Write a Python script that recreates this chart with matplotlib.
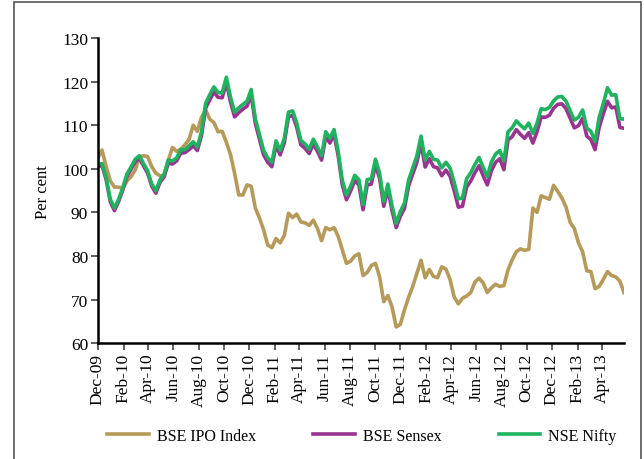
import pandas as pd
import matplotlib
matplotlib.use("Agg")
import matplotlib.pyplot as plt
import matplotlib.dates as mdates
from matplotlib.patches import Rectangle

plt.rcParams['font.family'] = ['Liberation Serif', 'DejaVu Serif']

# readings every 10 days starting 1 Dec 2009 (index, start = 100)
dates = pd.date_range('2009-12-01', periods=128, freq='10D')

bse_ipo = [102.5, 104.3, 100.5, 97.2, 95.8, 95.8, 95.5, 97.2, 98.2, 99.7,
           102.7, 103.0, 102.8, 100.5, 99.0, 98.4, 98.5, 102.0, 104.9, 104.0,
           104.5, 105.5, 106.7, 110.0, 108.6, 111.8, 113.5, 111.4, 110.6, 108.5,
           108.6, 106.1, 103.3, 99.0, 94.0, 94.0, 96.3, 96.0, 91.0, 88.7,
           86.0, 82.5, 81.9, 84.0, 83.0, 84.7, 89.8, 88.8, 89.6, 87.8,
           87.6, 87.0, 88.2, 86.3, 83.5, 86.5, 86.0, 86.5, 84.5, 81.4,
           78.3, 78.8, 80.0, 80.5, 75.5, 76.2, 77.8, 78.3, 75.2, 69.5,
           70.9, 68.3, 63.7, 64.3, 67.6, 70.5, 73.0, 76.0, 79.0, 75.0,
           76.9, 75.3, 75.0, 77.5, 77.0, 74.6, 70.6, 69.0, 70.3, 70.8,
           71.6, 74.0, 74.9, 73.8, 71.6, 72.7, 73.5, 73.0, 73.2, 76.8,
           79.1, 81.0, 81.6, 81.3, 81.5, 91.0, 90.0, 93.8, 93.4, 93.0,
           96.2, 94.8, 93.3, 91.2, 87.7, 86.3, 83.0, 81.0, 76.6, 76.4,
           72.5, 73.0, 74.6, 76.4, 75.5, 75.2, 74.2, 71.6]

bse_sensex = [100.6, 100.7, 97.5, 92.4, 90.4, 92.5, 95.1, 98.2, 99.9, 101.6,
              102.4, 100.7, 99.0, 96.0, 94.4, 96.9, 98.2, 101.3, 101.1, 101.8,
              103.6, 103.7, 104.4, 105.3, 104.2, 107.6, 113.9, 115.8, 117.6, 116.4,
              116.3, 119.8, 115.4, 111.9, 112.9, 113.7, 114.4, 117.0, 110.4, 106.8,
              103.2, 101.5, 100.5, 105.4, 103.2, 106.0, 111.9, 112.3, 109.5, 105.5,
              104.7, 103.5, 105.7, 104.0, 102.0, 107.4, 105.9, 107.9, 103.0, 96.3,
              92.9, 94.9, 97.3, 96.3, 90.6, 96.3, 96.5, 100.9, 97.8, 91.4,
              95.3, 90.4, 86.5, 89.1, 90.9, 96.1, 98.8, 101.5, 105.9, 100.4,
              102.3, 100.5, 100.2, 98.4, 99.7, 98.3, 95.0, 91.2, 91.4, 95.8,
              97.2, 99.1, 100.7, 98.4, 96.3, 99.6, 101.5, 102.3, 99.8, 106.6,
              107.4, 109.0, 107.9, 107.0, 108.3, 105.9, 108.5, 111.9, 111.8, 112.3,
              113.9, 114.8, 114.9, 113.8, 111.6, 109.4, 109.9, 111.6, 107.5, 106.7,
              104.4, 109.5, 112.6, 115.5, 114.0, 114.2, 109.5, 109.3]

nse_nifty = [101.0, 101.2, 98.0, 93.0, 91.0, 93.0, 95.6, 98.8, 100.4, 102.2,
             103.0, 101.2, 99.6, 96.5, 95.0, 97.5, 98.8, 102.0, 101.8, 102.5,
             104.4, 104.4, 105.3, 106.2, 105.0, 108.5, 115.0, 117.0, 118.8, 117.5,
             117.4, 121.0, 116.5, 113.0, 114.0, 114.8, 115.5, 118.2, 111.5, 107.8,
             104.2, 102.5, 101.5, 106.4, 104.2, 107.0, 113.0, 113.3, 110.5, 106.5,
             105.7, 104.5, 106.8, 105.0, 103.0, 108.5, 107.0, 109.0, 104.0, 97.3,
             94.0, 96.0, 98.5, 97.5, 91.8, 97.5, 97.7, 102.2, 99.0, 92.5,
             96.5, 91.5, 87.5, 90.2, 92.1, 97.4, 100.2, 103.0, 107.5, 102.0,
             104.0, 102.2, 102.0, 100.2, 101.5, 100.2, 96.9, 93.1, 93.3, 97.7,
             99.1, 101.0, 102.6, 100.3, 98.2, 101.6, 103.4, 104.2, 101.8, 108.5,
             109.4, 111.0, 110.0, 109.2, 110.5, 108.1, 110.5, 113.8, 113.6, 114.1,
             115.6, 116.5, 116.6, 115.5, 113.3, 111.2, 111.8, 113.5, 109.4, 108.6,
             106.3, 111.8, 115.0, 118.6, 116.9, 117.0, 111.5, 111.4]

labels = ['BSE IPO Index', 'BSE Sensex', 'NSE Nifty']
colors = ['#b59a5a', '#9a3490', '#1fb25f']

fig = plt.figure(figsize=(6.44, 4.6), dpi=100)
ax = fig.add_axes([0.152, 0.252, 0.817, 0.663])

for vals, lab, col in zip([bse_ipo, bse_sensex, nse_nifty], labels, colors):
    ax.plot(dates, vals, color=col, lw=2.6, label=lab, solid_joinstyle='round')

ax.set_ylim(60, 130)
ax.set_yticks(range(60, 131, 10))
ax.set_xlim(pd.Timestamp('2009-12-01'), pd.Timestamp('2013-05-24'))
ax.xaxis.set_major_locator(mdates.MonthLocator(bymonth=[2, 4, 6, 8, 10, 12]))
ax.xaxis.set_major_formatter(mdates.DateFormatter('%b-%y'))
plt.setp(ax.get_xticklabels(), rotation=90)

ax.spines['top'].set_visible(False)
ax.spines['right'].set_visible(False)
ax.spines['left'].set_linewidth(1.8)
ax.spines['bottom'].set_linewidth(1.8)
ax.tick_params(axis='both', direction='out', length=5, width=1.2,
               labelsize=12.5, color='#444444', pad=2)
ax.set_ylabel('Per cent', fontsize=12, labelpad=8)

fig.legend(loc='center', bbox_to_anchor=(0.562, 0.05), ncol=3, frameon=False,
           fontsize=11.5, handlelength=2.6, columnspacing=3.6, handletextpad=0.5)

# frame around the exhibit
fig.patches.append(Rectangle((0.021, -0.1), 0.975, 1.093, transform=fig.transFigure,
                             fill=False, edgecolor='#555555', lw=1.2))

fig.savefig('out.png', dpi=100)
